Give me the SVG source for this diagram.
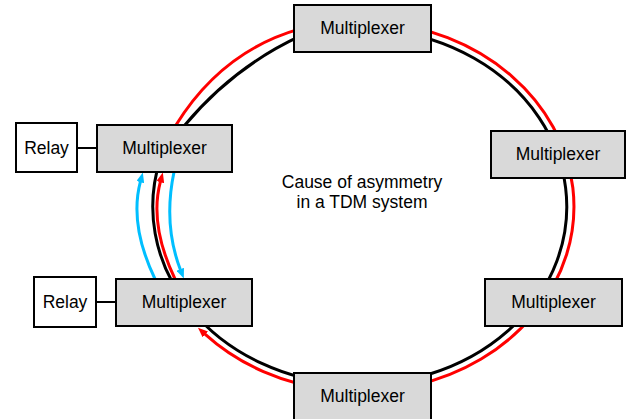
<svg xmlns="http://www.w3.org/2000/svg" width="626" height="419" viewBox="0 0 626 419">
<style>
.box{fill:#d9d9d9;stroke:#000;stroke-width:2}
.relay{fill:#fff;stroke:#000;stroke-width:2}
.lbl{font-family:"Liberation Sans",Arial,sans-serif;font-size:17.5px;fill:#000;text-anchor:middle}
.blk{fill:none;stroke:#000;stroke-width:3}
.red{fill:none;stroke:#f00;stroke-width:3}
.cyan{fill:none;stroke:#00bfff;stroke-width:3}
.link{stroke:#000;stroke-width:2}
</style>
<defs>
<marker id="ar" viewBox="0 0 10 8" refX="0.5" refY="4" markerWidth="10" markerHeight="8" markerUnits="userSpaceOnUse" orient="auto"><path d="M0,0 L10,4 L0,8 z" fill="#f00"/></marker>
<marker id="ac" viewBox="0 0 10 8" refX="0.5" refY="4" markerWidth="10" markerHeight="8" markerUnits="userSpaceOnUse" orient="auto"><path d="M0,0 L10,4 L0,8 z" fill="#00bfff"/></marker>
</defs>
<g id="connectors">
<path class="blk" d="M181,130 L185,125 Q233.5,67 300,36.2 A207,178 0 1,1 160,160"/>
<path class="red" d="M172.8,130.1 L176,125 Q222,51 300,28.9 A214,185 0 1,1 205,334.1" marker-end="url(#ar)"/>
<path class="red" d="M176.5,282 L175,279 Q149,224.5 160.4,181.7" marker-end="url(#ar)"/>
<path class="cyan" d="M156.5,283 L155,279 Q129,224.5 140.4,181.7" marker-end="url(#ac)"/>
<path class="cyan" d="M174.5,168 L174,172 Q163,224.5 180.4,269.7" marker-end="url(#ac)"/>
<line class="link" x1="77" y1="148" x2="97" y2="148"/>
<line class="link" x1="96" y1="302" x2="116" y2="302"/>
</g>
<g id="mux-top"><rect class="box" x="294" y="5" width="137" height="47"/><text class="lbl" x="362.5" y="34">Multiplexer</text></g>
<g id="mux-upper-right"><rect class="box" x="491" y="131" width="134" height="47"/><text class="lbl" x="558" y="160">Multiplexer</text></g>
<g id="mux-lower-right"><rect class="box" x="485" y="279" width="137" height="47"/><text class="lbl" x="553.5" y="308">Multiplexer</text></g>
<g id="mux-bottom"><rect class="box" x="294" y="373" width="137" height="47"/><text class="lbl" x="362.5" y="402">Multiplexer</text></g>
<g id="mux-upper-left"><rect class="box" x="97" y="125" width="135" height="47"/><text class="lbl" x="164.5" y="154">Multiplexer</text></g>
<g id="mux-lower-left"><rect class="box" x="116" y="279" width="136" height="47"/><text class="lbl" x="184" y="308">Multiplexer</text></g>
<g id="relay-upper"><rect class="relay" x="16" y="123" width="61" height="49"/><text class="lbl" x="46.5" y="154">Relay</text></g>
<g id="relay-lower"><rect class="relay" x="34" y="277" width="62" height="50"/><text class="lbl" x="65" y="308">Relay</text></g>
<g id="caption"><text class="lbl" x="362" y="188">Cause of asymmetry</text><text class="lbl" x="362" y="207.5">in a TDM system</text></g>
</svg>
